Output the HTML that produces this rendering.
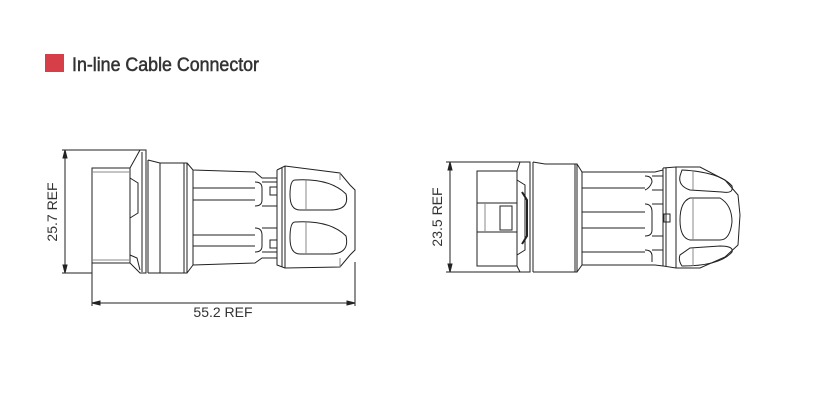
<!DOCTYPE html>
<html><head><meta charset="utf-8"><style>
html,body{margin:0;padding:0;background:#fff}
svg{display:block}
</style></head><body>
<svg width="813" height="420" viewBox="0 0 813 420" xmlns="http://www.w3.org/2000/svg">
<rect width="813" height="420" fill="#fff"/>
<rect x="45" y="54" width="19" height="18" fill="#d63f48"/>
<text x="72" y="71" font-family="Liberation Sans, sans-serif" font-size="19" fill="#333" stroke="#333" stroke-width="0.5" textLength="187" lengthAdjust="spacingAndGlyphs">In-line Cable Connector</text>

<g fill="none" stroke="#222" stroke-width="1">
<!-- LEFT dims -->
<line x1="62" y1="150" x2="140" y2="150"/>
<line x1="62" y1="273" x2="92" y2="273"/>
<line x1="65" y1="150" x2="65" y2="273"/>
<polygon points="65,150 63,158 67,158" fill="#222"/>
<polygon points="65,273 63,265 67,265" fill="#222"/>
<line x1="92" y1="263" x2="92" y2="306"/>
<line x1="355" y1="262" x2="355" y2="306"/>
<line x1="92" y1="303" x2="355" y2="303"/>
<polygon points="92,303 100,301 100,305" fill="#222"/>
<polygon points="355,303 347,301 347,305" fill="#222"/>

<!-- LEFT connector -->
<rect x="92" y="168" width="38" height="95"/>
<line x1="92" y1="172" x2="130" y2="172" stroke="#888"/>
<line x1="92" y1="260" x2="130" y2="260" stroke="#888"/>
<polyline points="130,168 140,150 146,150 146,273 140,273 130,263"/>
<line x1="142" y1="152" x2="142" y2="272"/>
<polyline points="130,178 138,183 138,213 130,218"/>
<polyline points="130,255 137,258 140,270"/>
<line x1="148" y1="160" x2="148" y2="273"/>
<polyline points="148,160 160,163 187,163 187,273 148,273"/>
<line x1="160" y1="163" x2="160" y2="273"/>
<line x1="184" y1="163" x2="184" y2="273"/>
<polyline points="187,163 193,170 255,172 262,178 277,178"/>
<polyline points="187,273 193,265 255,263 262,258 277,258"/>
<line x1="193" y1="170" x2="193" y2="265"/>
<line x1="193" y1="188" x2="255" y2="188"/>
<line x1="193" y1="200" x2="255" y2="200"/>
<line x1="193" y1="235" x2="255" y2="235"/>
<line x1="193" y1="246" x2="255" y2="246"/>
<path d="M255,182 Q262,182 262,188 L262,200 Q262,206 255,206 M262,182 L277,182 M262,206 L277,206"/>
<path d="M255,228 Q262,228 262,235 L262,246 Q262,252 255,252 M262,228 L277,228 M262,252 L277,252"/>
<rect x="270" y="187" width="7" height="8"/>
<rect x="270" y="240" width="7" height="8"/>
<!-- nut left -->
<polyline points="277,170 285,166 340,173 350,185 355,190 355,250 350,255 340,267 285,268 277,265 277,170"/>
<line x1="285" y1="166" x2="285" y2="268"/>
<line x1="282" y1="168" x2="282" y2="267"/>
<path d="M295,180 Q330,178 346,194 Q350,210 330,210 L300,210 Q290,210 290,195 Q290,180 295,180 Z"/>
<path d="M295,222 Q330,220 346,236 Q350,254 330,254 L300,254 Q290,254 290,238 Q290,222 295,222 Z"/>
<line x1="306" y1="180" x2="306" y2="210" stroke="#888"/>
<line x1="306" y1="222" x2="306" y2="254" stroke="#888"/>
<line x1="340" y1="173" x2="340" y2="180" stroke="#888"/>
<line x1="340" y1="258" x2="340" y2="267" stroke="#888"/>

<!-- RIGHT dims -->
<line x1="446" y1="162" x2="520" y2="162"/>
<line x1="446" y1="272" x2="520" y2="272"/>
<line x1="450" y1="162" x2="450" y2="272"/>
<polygon points="450,162 448,170 452,170" fill="#222"/>
<polygon points="450,272 448,264 452,264" fill="#222"/>

<!-- RIGHT connector -->
<rect x="477" y="171" width="40" height="95"/>
<line x1="477" y1="203" x2="517" y2="203"/>
<line x1="477" y1="232" x2="517" y2="232"/>
<rect x="500" y="206" width="12" height="24"/>
<line x1="485" y1="203" x2="485" y2="232" stroke="#888"/>
<polyline points="517,171 520,162 530,162 530,272 520,272 517,266"/>
<polyline points="517,180 525,185 525,250 517,255"/>
<path d="M522,192 L527,200 L527,236 L522,244" stroke-width="2"/>
<line x1="533" y1="162" x2="533" y2="272"/>
<polyline points="533,162 545,164 577,164 577,272 533,272"/>
<line x1="575" y1="164" x2="575" y2="272"/>
<polyline points="577,164 582,172 655,172 663,170"/>
<polyline points="577,272 582,265 655,265 663,266"/>
<line x1="582" y1="172" x2="582" y2="265"/>
<line x1="582" y1="188" x2="645" y2="188"/>
<line x1="582" y1="212" x2="645" y2="212"/>
<line x1="582" y1="228" x2="645" y2="228"/>
<line x1="582" y1="252" x2="645" y2="252"/>
<path d="M645,176 Q652,176 652,182 Q650,188 645,190 M652,176 L663,176 M652,190 L663,190"/>
<path d="M645,204 Q652,204 652,212 L652,230 Q652,236 645,236 M652,204 L663,204 M652,236 L663,236"/>
<path d="M645,250 Q652,250 652,256 L652,262 M652,250 L663,250"/>
<rect x="664" y="214" width="6" height="8"/>
<!-- nut right -->
<polyline points="663,168 676,167 700,167 725,180 738,195 740,215 738,245 725,257 700,268 676,268 663,266 663,168"/>
<line x1="676" y1="167" x2="676" y2="268"/>
<line x1="666" y1="168" x2="666" y2="266"/>
<path d="M682,170 Q720,172 732,186 Q734,194 722,192 L690,190 Q678,186 680,176 Z"/>
<path d="M690,198 L720,198 Q732,205 732,222 Q730,240 720,240 L690,240 Q680,238 680,220 Q680,202 690,198 Z"/>
<path d="M690,248 L720,246 Q734,246 732,252 Q720,266 682,266 Q678,260 680,255 Z"/>
<line x1="693" y1="198" x2="693" y2="240" stroke="#888"/>
<line x1="693" y1="170" x2="693" y2="190" stroke="#888"/>
<line x1="693" y1="248" x2="693" y2="266" stroke="#888"/>
</g>

<g font-family="Liberation Sans, sans-serif" font-size="14" fill="#333">
<text x="223" y="317" text-anchor="middle">55.2 REF</text>
<text transform="translate(57,212) rotate(-90)" text-anchor="middle">25.7 REF</text>
<text transform="translate(442,217) rotate(-90)" text-anchor="middle">23.5 REF</text>
</g>
</svg>
</body></html>
